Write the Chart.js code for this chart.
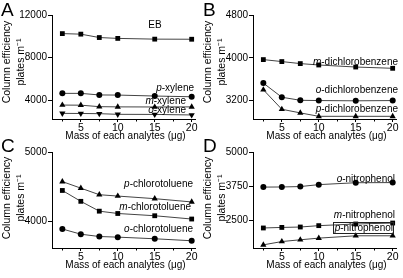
<!DOCTYPE html>
<html><head><meta charset="utf-8">
<script src="https://cdn.jsdelivr.net/npm/chart.js@4/dist/chart.umd.min.js"></script>
<style>
html,body{margin:0;padding:0;background:#fff;width:403px;height:278px;overflow:hidden;position:relative}
canvas{position:absolute}
</style></head><body>
<canvas id="cA" width="201" height="150" style="left:0;top:0"></canvas>
<canvas id="cB" width="202" height="150" style="left:201px;top:0"></canvas>
<canvas id="cC" width="201" height="140" style="left:0;top:138px"></canvas>
<canvas id="cD" width="202" height="140" style="left:201px;top:138px"></canvas>
<script>
// ---- data ----
const xValues = [2.5, 5, 7.5, 10, 15, 20];
const xTicks = [5, 10, 15, 20];
const xMinorTicks = [2.5, 7.5, 12.5, 17.5];
const xTitle = 'Mass of each analytes (\u03bcg)';
const yTitle1 = 'Column efficiency';
const yTitle2 = 'plates m\u207b\u00b9';

// Panel A
const ebA = [10250, 10200, 9880, 9800, 9730, 9720];
const pXyleneA = [4630, 4630, 4480, 4470, 4380, 4310];
const mXyleneA = [3530, 3520, 3380, 3360, 3350, 3360];
const oXyleneA = [2750, 2740, 2720, 2660, 2650, 2600];
const yTicksA = [4000, 8000, 12000];

// Panel B
const mDichloroB = [3966, 3929, 3891, 3865, 3827, 3803];
const oDichloroB = [3526, 3262, 3205, 3200, 3195, 3200];
const pDichloroB = [3402, 3037, 2969, 2905, 2905, 2905];
const yTicksB = [3200, 4000, 4800];

// Panel C
const pChloroC = [4577, 4481, 4385, 4365, 4327, 4279];
const mChloroC = [4447, 4288, 4144, 4110, 4077, 4029];
const oChloroC = [3883, 3807, 3773, 3764, 3740, 3711];
const yTicksC = [4000, 5000];

// Panel D
const oNitroD = [3720, 3725, 3740, 3810, 3880, 3885];
const mNitroD = [2230, 2250, 2265, 2315, 2375, 2410];
const pNitroD = [1615, 1735, 1800, 1860, 1945, 1945];
const yTicksD = [2500, 3750, 5000];

// ---- helpers ----
const FONT = '"Liberation Sans", Arial, sans-serif';
Chart.defaults.font.family = FONT;
Chart.defaults.color = '#000';

function series(values, style){
  const s = {
    data: values.map((y, i) => ({x: xValues[i], y: y})),
    borderColor: '#444', borderWidth: 1, tension: 0,
    pointBackgroundColor: '#000', pointBorderColor: '#000', pointBorderWidth: 0,
    pointStyle: 'circle', pointRadius: 3
  };
  if (style === 'rect') { s.pointStyle = 'rect'; s.pointRadius = 3.4; }
  if (style === 'tri') { s.pointStyle = 'triangle'; s.pointRadius = 3.6; }
  if (style === 'tridown') { s.pointStyle = 'triangle'; s.pointRadius = 3.6; s.rotation = 180; }
  return s;
}

const decorPlugin = {
  id: 'decor',
  afterDraw(chart, args, o){
    const ctx = chart.ctx, ca = chart.chartArea;
    const xs = chart.scales.x;
    ctx.save();
    ctx.strokeStyle = '#000'; ctx.lineWidth = 1;
    // minor x ticks
    xMinorTicks.forEach(v => {
      const px = Math.round(xs.getPixelForValue(v)) + 0.5;
      ctx.beginPath(); ctx.moveTo(px, ca.bottom); ctx.lineTo(px, ca.bottom + 2.5); ctx.stroke();
    });
    ctx.fillStyle = '#000';
    // panel letter
    ctx.font = '19px ' + FONT; ctx.textAlign = 'left'; ctx.textBaseline = 'top';
    ctx.fillText(o.letter, o.letterX, o.letterY);
    // x title
    ctx.font = '10px ' + FONT; ctx.textAlign = 'center'; ctx.textBaseline = 'middle';
    ctx.fillText(xTitle, (ca.left + ca.right) / 2 + 2, ca.bottom + 17.5);
    // y title
    ctx.save();
    ctx.translate(0, o.yTitleY); ctx.rotate(-Math.PI / 2);
    ctx.font = '10.5px ' + FONT; ctx.textAlign = 'center'; ctx.textBaseline = 'middle';
    ctx.fillText(yTitle1, 0, 7);
    ctx.fillText(yTitle2, 0, 21);
    ctx.restore();
    // series labels
    o.labels.forEach(l => {
      ctx.textBaseline = 'middle'; ctx.textAlign = 'left';
      ctx.font = 'italic 10px ' + FONT;
      const w1 = l.it ? ctx.measureText(l.it).width : 0;
      ctx.font = '10px ' + FONT;
      const w2 = ctx.measureText(l.t).width;
      let x = l.center ? l.x - (w1 + w2) / 2 : l.x - (w1 + w2);
      if (l.it) { ctx.font = 'italic 10px ' + FONT; ctx.fillText(l.it, x, l.y); }
      ctx.font = '10px ' + FONT; ctx.fillText(l.t, x + w1, l.y);
      if (l.box) {
        ctx.strokeStyle = '#222';
        ctx.strokeRect(Math.round(x) - 1.5, Math.round(l.y) - 5.5, Math.round(w1 + w2) + 2, 11);
      }
    });
    ctx.restore();
  }
};

function makePanel(id, datasets, yMin, yMax, yTicks, plotTop, plotBottom, decor){
  const cv = document.getElementById(id);
  const W = cv.width, H = cv.height;
  return new Chart(cv, {
    type: 'line',
    data: {datasets: datasets},
    options: {
      responsive: false, animation: false, devicePixelRatio: 1,
      layout: {padding: {left: 0, top: plotTop, right: W - 195, bottom: 0}},
      plugins: {legend: {display: false}, tooltip: {enabled: false}, decor: decor},
      scales: {
        x: {
          type: 'linear', min: 1.1, max: 20.45,
          afterBuildTicks: s => { s.ticks = xTicks.map(v => ({value: v})); },
          afterFit: s => { s.height = H - plotBottom; },
          ticks: {font: {size: 10.5}, color: '#000', padding: 0, maxRotation: 0, callback: v => String(v)},
          grid: {drawOnChartArea: false, drawTicks: true, tickLength: 3, color: '#000'},
          border: {display: true, color: '#000', width: 1}
        },
        y: {
          type: 'linear', min: yMin, max: yMax,
          afterBuildTicks: s => { s.ticks = yTicks.map(v => ({value: v})); },
          afterFit: s => { s.width = 52; },
          ticks: {font: {size: 10}, color: '#000', padding: 1, callback: v => String(v)},
          grid: {drawOnChartArea: false, drawTicks: true, tickLength: 4, color: '#000'},
          border: {display: true, color: '#000', width: 1}
        }
      }
    },
    plugins: [decorPlugin]
  });
}

makePanel('cA', [
  series(ebA, 'rect'), series(pXyleneA, 'circle'), series(mXyleneA, 'tri'), series(oXyleneA, 'tridown')
], 2220, 12000, yTicksA, 15, 119, {
  letter: 'A', letterX: 1, letterY: 1, yTitleY: 62,
  labels: [
    {t: 'EB', x: 155, y: 25, center: true},
    {it: 'p', t: '-xylene', x: 194, y: 88},
    {it: 'm', t: '-xylene', x: 186, y: 101},
    {it: 'o', t: '-xylene', x: 186, y: 110.5}
  ]
});

makePanel('cB', [
  series(mDichloroB, 'rect'), series(oDichloroB, 'circle'), series(pDichloroB, 'tri')
], 2855, 4800, yTicksB, 15, 119, {
  letter: 'B', letterX: 2, letterY: 1, yTitleY: 62,
  labels: [
    {it: 'm', t: '-dichlorobenzene', x: 197, y: 62},
    {it: 'o', t: '-dichlorobenzene', x: 197, y: 90},
    {it: 'p', t: '-dichlorobenzene', x: 197, y: 109}
  ]
});

makePanel('cC', [
  series(pChloroC, 'tri'), series(mChloroC, 'rect'), series(oChloroC, 'circle')
], 3605, 5010, yTicksC, 14, 110, {
  letter: 'C', letterX: 1, letterY: -1, yTitleY: 60,
  labels: [
    {it: 'p', t: '-chlorotoluene', x: 193, y: 46},
    {it: 'm', t: '-chlorotoluene', x: 191, y: 69},
    {it: 'o', t: '-chlorotoluene', x: 193, y: 91}
  ]
});

makePanel('cD', [
  series(oNitroD, 'circle'), series(mNitroD, 'rect'), series(pNitroD, 'tri')
], 1500, 5000, yTicksD, 14, 110, {
  letter: 'D', letterX: 2, letterY: -1, yTitleY: 60,
  labels: [
    {it: 'o', t: '-nitrophenol', x: 194, y: 41},
    {it: 'm', t: '-nitrophenol', x: 194, y: 77},
    {it: 'p', t: '-nitrophenol', x: 192, y: 90, box: true}
  ]
});
</script>
</body></html>
